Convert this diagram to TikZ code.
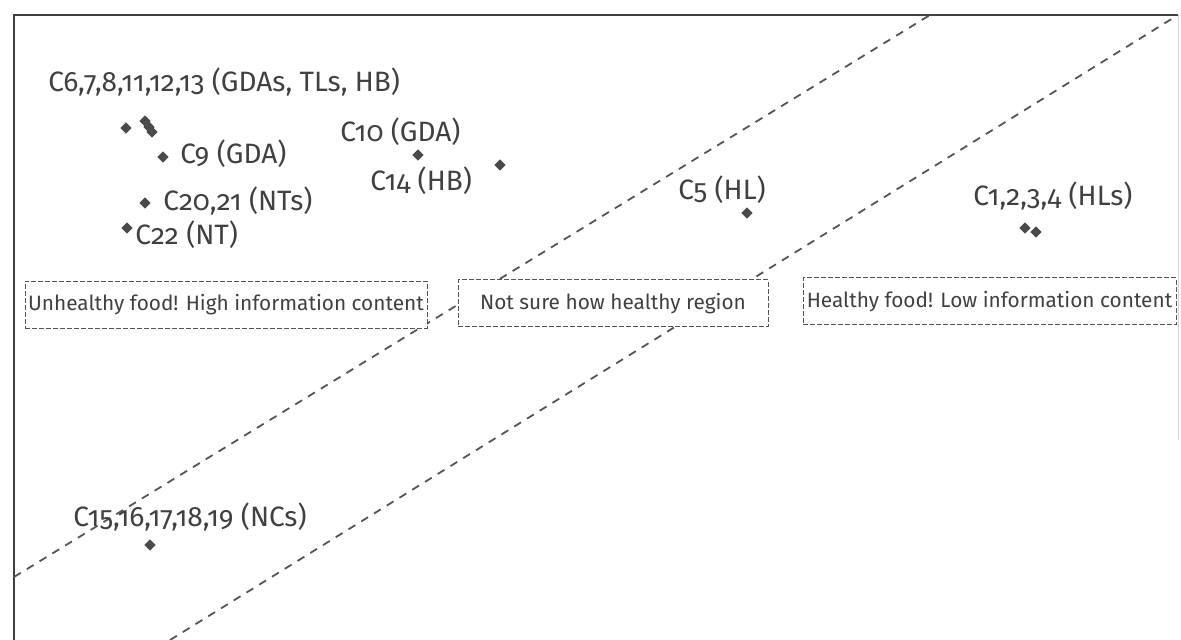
\documentclass[tikz,border=0pt]{standalone}
\usepackage{fontspec}
\setmainfont{Fira Sans}[Numbers=OldStyle]
\usetikzlibrary{shapes.geometric}
\definecolor{ink}{HTML}{404040}
\definecolor{dashgray}{HTML}{555555}
\tikzset{
  frameline/.style={draw=ink, line width=0.8pt},
  divider/.style={draw=dashgray, line width=0.9pt, dash pattern=on 4pt off 3.5pt},
  regionbox/.style={draw=dashgray, line width=0.5pt, dash pattern=on 2.5pt off 1pt,
    fill=white, inner sep=0pt, minimum height=23.5pt, text=ink,
    font=\fontsize{10.4}{12}\selectfont},
  pt/.style={diamond, fill=ink!95, inner sep=0pt, minimum size=5.8pt},
  lbl/.style={anchor=west, inner sep=0pt, text=ink, font=\fontsize{14}{16}\selectfont}
}
\begin{document}
\begin{tikzpicture}[x=0.5pt,y=-0.5pt]
\useasboundingbox (0,0) rectangle (1181,640);

% plot frame
\coordinate (fbl) at (14,640);
\coordinate (ftl) at (14,15);
\coordinate (ftr) at (1178,15);
\coordinate (fbr) at (1178,440);
\draw[frameline] (fbl) -- (ftl) -- (ftr);
\draw[draw=black!15, line width=0.5pt] (ftr) -- (fbr);

% region dividers
\coordinate (ua) at (14,577);
\coordinate (ub) at (930,15);
\coordinate (la) at (170,640);
\coordinate (lb) at (1178,15);
\draw[divider] (ua) -- (ub);
\draw[divider] (la) -- (lb);

% region captions
\node[regionbox, minimum width=201pt] (unhealthy) at (226,305) {Unhealthy food! High information content};
\node[regionbox, minimum width=155pt] (unsure) at (613,303.5) {Not sure how healthy region};
\node[regionbox, minimum width=186.5pt] (healthy) at (989.5,301.5) {Healthy food! Low information content};

% data points
\node[pt] (p6a) at (126,128) {};
\node[pt] (p6b) at (145,121) {};
\node[pt] (p6c) at (149,127) {};
\node[pt] (p6d) at (152,132) {};
\node[pt] (p9) at (163,157) {};
\node[pt] (p20) at (145,203) {};
\node[pt] (p22) at (127,228) {};
\node[pt] (p10) at (418,155) {};
\node[pt] (p14) at (500,165) {};
\node[pt] (p5) at (747,213) {};
\node[pt] (p1a) at (1025,228) {};
\node[pt] (p1b) at (1036,232) {};
\node[pt] (p15) at (150,545) {};

% point labels
\node[lbl] (l6) at (48,82) {C6,7,8,11,12,13 (GDAs, TLs, HB)};
\node[lbl] (l9) at (180,154) {C9 (GDA)};
\node[lbl] (l20) at (163,201) {C20,21 (NTs)};
\node[lbl] (l22) at (135,235) {C22 (NT)};
\node[lbl] (l10) at (340,132) {C10 (GDA)};
\node[lbl] (l14) at (370,181) {C14 (HB)};
\node[lbl] (l5) at (678,190) {C5 (HL)};
\node[lbl] (l1) at (973,196) {C1,2,3,4 (HLs)};
\node[lbl] (l15) at (73,517) {C15,16,17,18,19 (NCs)};
\end{tikzpicture}
\end{document}
